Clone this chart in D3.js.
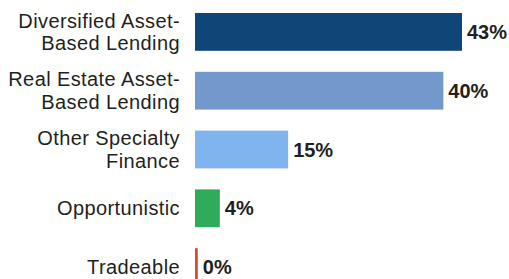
<!DOCTYPE html>
<html><head><meta charset="utf-8">
<script src="https://cdn.jsdelivr.net/npm/d3@7"></script>
<style>body{margin:0;background:#fff}svg{display:block}</style>
</head><body><svg id="c" width="509" height="279"></svg>
<script>
const categories = [["Diversified Asset-","Based Lending"],["Real Estate Asset-","Based Lending"],["Other Specialty","Finance"],["Opportunistic"],["Tradeable"]];
const values = [43, 40, 15, 4, 0.45];
const valueLabels = ["43%","40%","15%","4%","0%"];
const colors = ["#0f4577","#7399cc","#80b4ee","#2eac5a","#e0482a"];

const svg = d3.select("#c");
const x0 = 195;
const x = d3.scaleLinear().domain([0, 43]).range([x0, 462]);
const yb = d3.scaleBand().domain(d3.range(values.length)).range([13, 13 + 58.8*5 - 21]).paddingInner(21/58.8).paddingOuter(0);

svg.selectAll("rect.bar").data(values).join("rect")
  .attr("x", x0).attr("y", (d,i)=>yb(i)).attr("height", yb.bandwidth())
  .attr("width", d => x(d) - x0).attr("fill", (d,i)=>colors[i]);

const fam = "'Liberation Sans', Arial, Helvetica, sans-serif";
const lab = svg.selectAll("text.cat").data(categories).join("text")
  .attr("text-anchor","end").attr("font-family",fam).attr("font-size",20)
  .attr("letter-spacing","0.4px").attr("fill","#231f20");
lab.each(function(lines, i){
  const cy = yb(i) + yb.bandwidth()/2;
  const t = d3.select(this);
  const n = lines.length;
  lines.forEach((l, k) => {
    t.append("tspan").attr("x", 180).attr("y", cy + (k - (n-1)/2)*22.5 + 7).text(l);
  });
});

svg.selectAll("text.val").data(values).join("text")
  .attr("x", d => x(d) + 5).attr("y", (d,i)=>yb(i)+yb.bandwidth()/2 + 7)
  .attr("font-family",fam).attr("font-weight","bold").attr("font-size",20).attr("fill","#231f20")
  .text((d,i)=>valueLabels[i]);
</script></body></html>
